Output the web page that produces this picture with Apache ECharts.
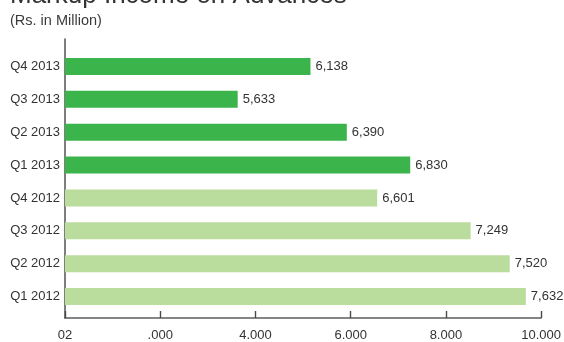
<!DOCTYPE html>
<html>
<head>
<meta charset="utf-8">
<script src="https://cdn.jsdelivr.net/npm/echarts@6/dist/echarts.min.js"></script>
<style>
html,body{margin:0;padding:0;background:#fff;}
#chart{width:564px;height:342px;}
</style>
</head>
<body>
<div id="chart"></div>
<script>
// Data
var categories = ['Q4 2013','Q3 2013','Q2 2013','Q1 2013','Q4 2012','Q3 2012','Q2 2012','Q1 2012'];
var values = [6138, 5633, 6390, 6830, 6601, 7249, 7520, 7632];
var tickLabels = ['02', '.000', '4.000', '6.000', '8.000', '10.000'];
var titleText = 'Markup Income on Advances';
var subtitleText = '(Rs. in Million)';

var chart = echarts.init(document.getElementById('chart'), null, {renderer:'canvas'});
var FONT = 'Liberation Sans, Arial, Helvetica, sans-serif';
var option = {
  animation: false,
  backgroundColor: '#ffffff',
  graphic: [
    {type:'text', left: 10, top: -17, style:{text: titleText, font: '300 26px ' + FONT, fill:'#333333'}},
    {type:'text', left: 10, top: 13, style:{text: subtitleText, font: '14.5px ' + FONT, fill:'#3a3a3a'}}
  ],
  grid: [
    {left: 65, right: 19, top: 39, bottom: 21, containLabel: false},
    {left: 65, right: 19, top: 50, bottom: 29, containLabel: false}
  ],
  xAxis: [
    {
      type: 'value', gridIndex: 0, min: 0, max: 10000, interval: 2000,
      axisLine: {show: true, lineStyle: {color: '#5e5e5e', width: 1.6}},
      axisTick: {show: true, inside: true, length: 7, lineStyle: {color: '#4a4a4a', width: 1.4}},
      splitLine: {show: false},
      axisLabel: {
        show: true, margin: 11, color: '#333333', fontSize: 13, fontFamily: FONT,
        formatter: function (v) { return tickLabels[Math.round(v / 2000)]; }
      }
    },
    {
      type: 'value', gridIndex: 1, min: 4435, max: 7765, show: false
    }
  ],
  yAxis: [
    {
      type: 'value', gridIndex: 0, min: 0, max: 1,
      axisLine: {show: true, lineStyle: {color: '#5e5e5e', width: 1.6}},
      axisTick: {show: false}, axisLabel: {show: false}, splitLine: {show: false}
    },
    {
      type: 'category', gridIndex: 1, data: categories, inverse: true,
      axisLine: {show: false}, axisTick: {show: false}, splitLine: {show: false},
      axisLabel: {margin: 5, color: '#333333', fontSize: 13, fontFamily: FONT}
    }
  ],
  series: [{
    type: 'bar', xAxisIndex: 1, yAxisIndex: 1,
    data: values,
    barWidth: 17,
    itemStyle: {
      color: function (p) { return categories[p.dataIndex].indexOf('2013') >= 0 ? '#3bb44b' : '#badc9c'; }
    },
    label: {
      show: true, position: 'right', distance: 5, color: '#333333', fontSize: 13, fontFamily: FONT,
      formatter: function (p) { return p.value.toLocaleString('en-US'); }
    }
  }]
};
chart.setOption(option);
</script>
</body>
</html>
